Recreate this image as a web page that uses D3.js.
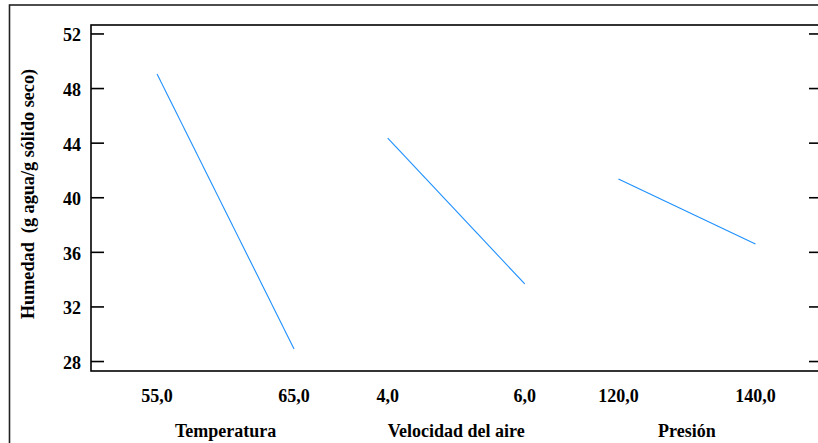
<!DOCTYPE html>
<html>
<head>
<meta charset="utf-8">
<script src="https://cdn.jsdelivr.net/npm/d3@7"></script>
<style>
  body { margin: 0; background: #fff; }
  text { font-family: "Liberation Serif", "DejaVu Serif", serif; font-weight: bold; }
</style>
</head>
<body>
<script>
// factors and their two levels
const factors = ["Temperatura", "Velocidad del aire", "Presión"];
const levelLabels = [["55,0", "65,0"], ["4,0", "6,0"], ["120,0", "140,0"]];
// mean humidity at low / high level of each factor
const meanLow = [49.03, 44.34, 41.34];
const meanHigh = [28.89, 33.65, 36.58];
const yTicks = [28, 32, 36, 40, 44, 48, 52];

function init(){
	const W = 818, H = 443;
	const left = 91, top = 25, right = 821, bottom = 371;

	const svg = d3.select("body").append("svg")
		.attr("width", W)
		.attr("height", H);

	// outer frame
	svg.append("rect")
		.attr("x", 9.5)
		.attr("y", 5)
		.attr("width", 830)
		.attr("height", 460)
		.attr("fill", "none")
		.attr("stroke", "#222")
		.attr("stroke-width", 1.6);

	const y = d3.scaleLinear()
		.domain([27.27, 52.62])
		.range([bottom, top]);

	const panel = d3.scaleBand()
		.domain(factors)
		.range([110.2, 802.3]);

	const lvl = d3.scalePoint()
		.domain([0, 1])
		.range([0, panel.bandwidth()])
		.padding(0.342);

	// plot frame
	svg.append("rect")
		.attr("x", left)
		.attr("y", top)
		.attr("width", right - left)
		.attr("height", bottom - top)
		.attr("fill", "none")
		.attr("stroke", "#000")
		.attr("stroke-width", 1.6);

	// left axis ticks (inward)
	const leftAxis = d3.axisRight(y)
		.tickValues(yTicks)
		.tickSize(13)
		.tickFormat("");
	svg.append("g")
		.attr("transform", `translate(${left},0)`)
		.call(leftAxis)
		.call(g => g.select(".domain").remove())
		.selectAll("line").attr("stroke", "#000").attr("stroke-width", 1.6);

	// right axis ticks (inward)
	const rightAxis = d3.axisLeft(y)
		.tickValues(yTicks)
		.tickSize(12)
		.tickFormat("");
	svg.append("g")
		.attr("transform", `translate(${right},0)`)
		.call(rightAxis)
		.call(g => g.select(".domain").remove())
		.selectAll("line").attr("stroke", "#000").attr("stroke-width", 1.6);

	// y tick labels
	svg.append("g").selectAll("text")
		.data(yTicks)
		.join("text")
		.attr("x", 81)
		.attr("y", d => y(d) + 8)
		.attr("text-anchor", "end")
		.attr("font-size", "18px")
		.attr("fill", "#000")
		.text(d => d);

	// y axis title
	svg.append("text")
		.attr("transform", "translate(34,194) rotate(-90)")
		.attr("text-anchor", "middle")
		.attr("font-size", "18.2px")
		.attr("fill", "#000")
		.style("white-space", "pre")
		.text("Humedad  (g agua/g sólido seco)");

	const line = d3.line()
		.x(d => d.x)
		.y(d => y(d.v));

	factors.forEach((f, i) => {
		const x0 = panel(f);
		const pts = [
			{x: x0 + lvl(0), v: meanLow[i]},
			{x: x0 + lvl(1), v: meanHigh[i]}
		];
		svg.append("path")
			.attr("d", line(pts))
			.attr("fill", "none")
			.attr("stroke", "#1e90ff")
			.attr("stroke-width", 1.1);

		svg.append("g").selectAll("text")
			.data(levelLabels[i])
			.join("text")
			.attr("x", (d, j) => x0 + lvl(j))
			.attr("y", 402)
			.attr("text-anchor", "middle")
			.attr("font-size", "18px")
			.attr("fill", "#000")
			.text(d => d);

		svg.append("text")
			.attr("x", x0 + (lvl(0) + lvl(1)) / 2)
			.attr("y", 437)
			.attr("text-anchor", "middle")
			.attr("font-size", "18px")
			.attr("fill", "#000")
			.text(f);
	});
}
init();
</script>
</body>
</html>
